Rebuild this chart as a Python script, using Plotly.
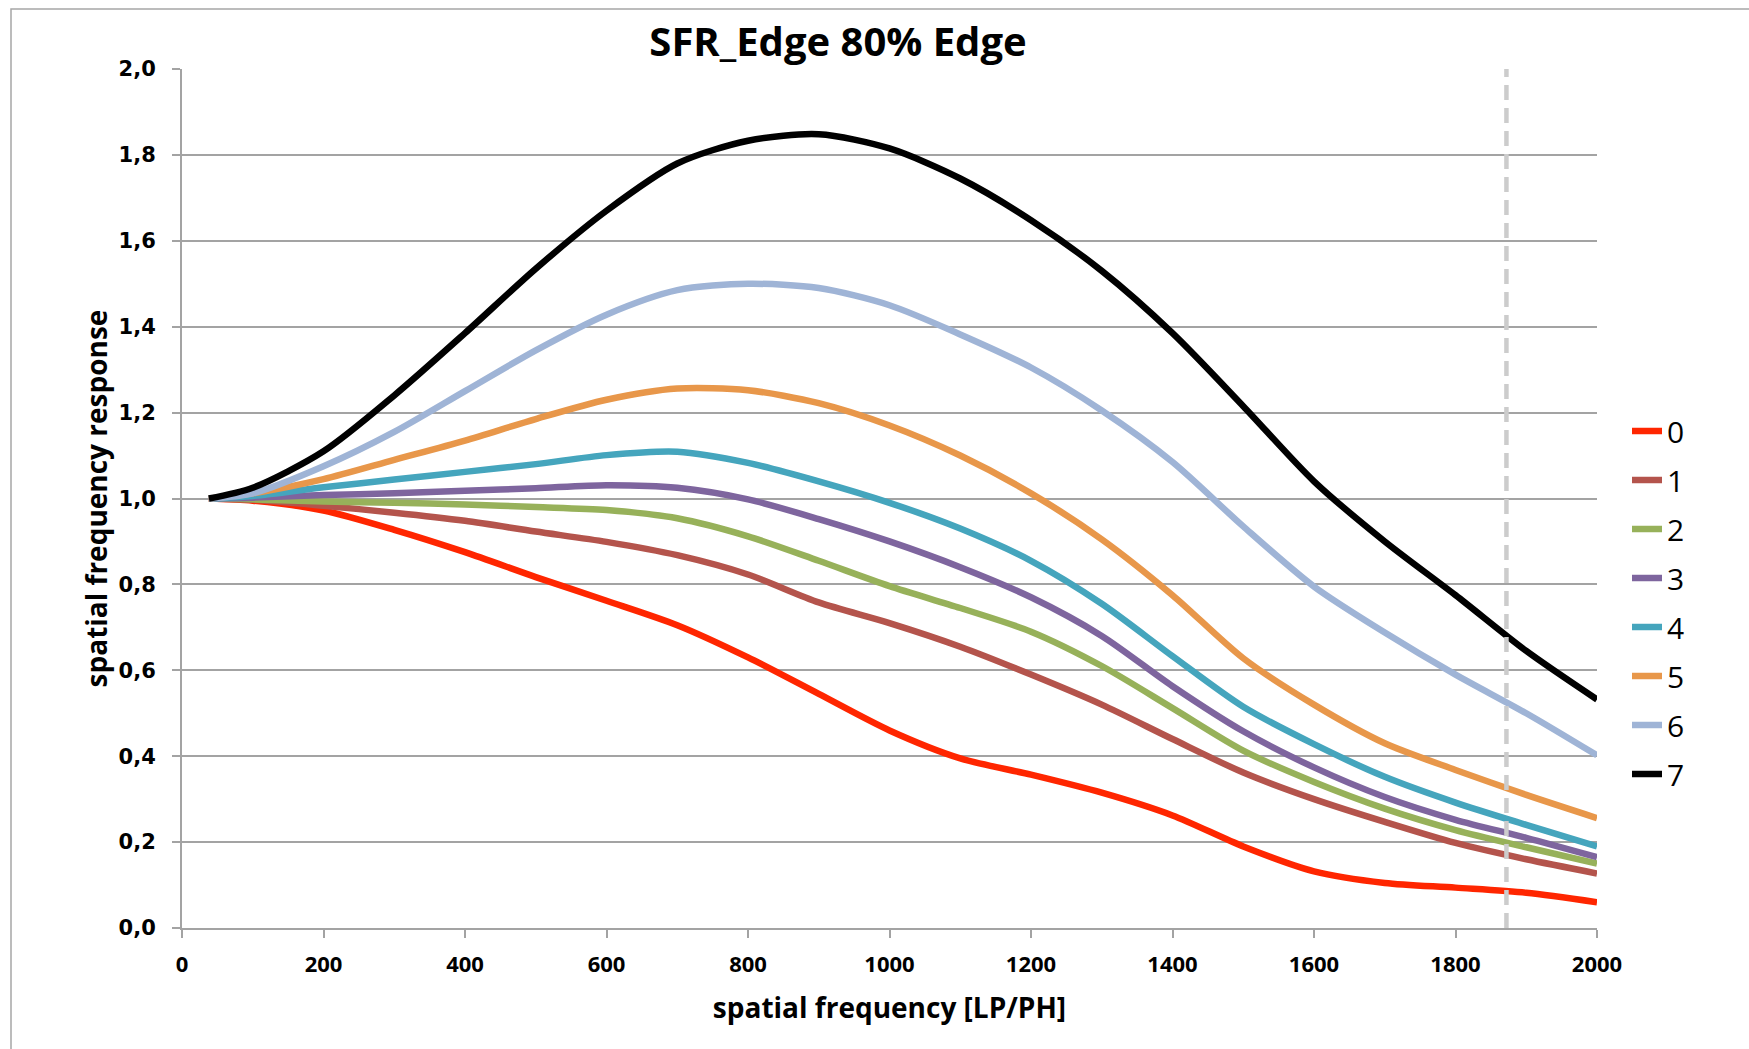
import plotly.graph_objects as go

# ---------------- data ----------------
freq = [38, 100, 200, 300, 400, 500, 600, 700, 800, 900, 1000,
        1100, 1200, 1300, 1400, 1500, 1600, 1700, 1800, 1900, 2000]

series_names = ["0", "1", "2", "3", "4", "5", "6", "7"]

s0 = [1.0, 0.995, 0.972, 0.927, 0.875, 0.817, 0.762, 0.705, 0.630, 0.545, 0.460,
      0.395, 0.357, 0.315, 0.262, 0.190, 0.132, 0.105, 0.094, 0.082, 0.060]
s1 = [1.0, 0.997, 0.983, 0.967, 0.948, 0.923, 0.899, 0.868, 0.823, 0.758, 0.710,
      0.655, 0.590, 0.520, 0.440, 0.362, 0.300, 0.247, 0.198, 0.160, 0.127]
s2 = [1.0, 0.998, 0.993, 0.990, 0.986, 0.980, 0.973, 0.954, 0.912, 0.855, 0.796,
      0.745, 0.690, 0.610, 0.512, 0.413, 0.340, 0.278, 0.228, 0.188, 0.150]
s3 = [1.0, 1.002, 1.008, 1.012, 1.018, 1.024, 1.031, 1.025, 0.998, 0.952, 0.900,
      0.840, 0.770, 0.680, 0.563, 0.458, 0.374, 0.305, 0.252, 0.210, 0.165]
s4 = [1.0, 1.006, 1.026, 1.044, 1.062, 1.080, 1.101, 1.109, 1.083, 1.040, 0.990,
      0.930, 0.855, 0.755, 0.633, 0.515, 0.428, 0.352, 0.292, 0.240, 0.190]
s5 = [1.0, 1.012, 1.045, 1.090, 1.135, 1.185, 1.230, 1.256, 1.252, 1.222, 1.170,
      1.100, 1.012, 0.905, 0.775, 0.628, 0.520, 0.430, 0.368, 0.310, 0.256]
s6 = [1.0, 1.012, 1.075, 1.155, 1.250, 1.345, 1.428, 1.485, 1.500, 1.490, 1.450,
      1.382, 1.305, 1.205, 1.085, 0.935, 0.795, 0.688, 0.590, 0.500, 0.402]
s7 = [1.0, 1.025, 1.110, 1.240, 1.385, 1.535, 1.670, 1.780, 1.833, 1.848, 1.815,
      1.745, 1.648, 1.530, 1.385, 1.215, 1.040, 0.900, 0.775, 0.645, 0.532]

series_values = [s0, s1, s2, s3, s4, s5, s6, s7]

nyquist_x = [1872, 1872]
nyquist_y = [0.0, 2.0]

x_tick_vals = [0, 200, 400, 600, 800, 1000, 1200, 1400, 1600, 1800, 2000]
y_tick_vals = [0.0, 0.2, 0.4, 0.6, 0.8, 1.0, 1.2, 1.4, 1.6, 1.8, 2.0]
y_tick_text = ["0,0", "0,2", "0,4", "0,6", "0,8", "1,0", "1,2", "1,4", "1,6", "1,8", "2,0"]

title_text = "SFR_Edge 80% Edge"
x_title = "spatial frequency [LP/PH]"
y_title = "spatial frequency response"

# ---------------- styles ----------------
colors = ["#ff2600", "#b4544c", "#97b15a", "#7e659e", "#45a5bd", "#e8974a", "#9fb4d6", "#000000"]

W, H = 1749, 1049
ML, MR, MT, MB = 182, 152, 69, 121
PW, PH = W - ML - MR, H - MT - MB

fig = go.Figure()
for name, vals, col in zip(series_names, series_values, colors):
    fig.add_trace(go.Scatter(
        x=freq, y=vals, mode="lines", name=name, legendgroup=name,
        line=dict(color=col, width=6.5, shape="spline", smoothing=0.8),
    ))

fig.add_trace(go.Scatter(
    x=nyquist_x, y=nyquist_y, mode="lines", showlegend=False, hoverinfo="skip",
    line=dict(color="#cccccc", width=4.5, dash="15px,8px"),
))

grid_col = "#a3a3a3"
txt_font = "Open Sans, sans-serif"

fig.update_layout(
    width=W, height=H,
    margin=dict(l=ML, r=MR, t=MT, b=MB, autoexpand=False),
    paper_bgcolor="white", plot_bgcolor="white",
    title=dict(text=f"<b>{title_text}</b>", x=(838 - ML) / PW, xref="paper", xanchor="center",
               y=1 - 42 / H, yref="container", yanchor="middle",
               font=dict(family=txt_font, size=40, color="black")),
    showlegend=True,
    legend=dict(
        x=(1627 - ML) / PW, xanchor="left", y=(928 - 405) / PH, yanchor="top",
        font=dict(family=txt_font, size=30, color="black"),
        tracegroupgap=7, traceorder="grouped",
        bgcolor="rgba(0,0,0,0)", borderwidth=0,
    ),
    xaxis=dict(
        range=[0, 2000], tickvals=x_tick_vals, ticktext=[str(v) for v in x_tick_vals],
        showgrid=False, zeroline=False, showline=True, linecolor=grid_col, linewidth=2,
        ticks="outside", ticklen=8, tickcolor=grid_col, tickwidth=1.5,
        ticklabelstandoff=8,
        tickfont=dict(family=txt_font, size=22, color="black", weight="bold"),
        title=dict(text=f"<b>{x_title}</b>", standoff=21,
                   font=dict(family=txt_font, size=28, color="black")),
    ),
    yaxis=dict(
        range=[0, 2], tickvals=y_tick_vals, ticktext=y_tick_text,
        showgrid=True, gridcolor=grid_col, gridwidth=1.5,
        zeroline=False, showline=True, linecolor=grid_col, linewidth=2,
        ticks="outside", ticklen=8, tickcolor=grid_col, tickwidth=1.5,
        ticklabelstandoff=12,
        tickfont=dict(family="DejaVu Sans, sans-serif", size=21, color="black", weight="bold"),
        title=dict(text=f"<b>{y_title}</b>", standoff=3,
                   font=dict(family=txt_font, size=28, color="black")),
    ),
    shapes=[dict(type="rect", xref="paper", yref="paper",
                 x0=(11 - ML) / PW, x1=(W + 20 - ML) / PW,
                 y0=(-MB - 20) / PH, y1=(H - MB - 9) / PH,
                 line=dict(color="#a6a6a6", width=1.5), fillcolor="rgba(0,0,0,0)",
                 layer="below")],
)

fig.write_html("out.html")
